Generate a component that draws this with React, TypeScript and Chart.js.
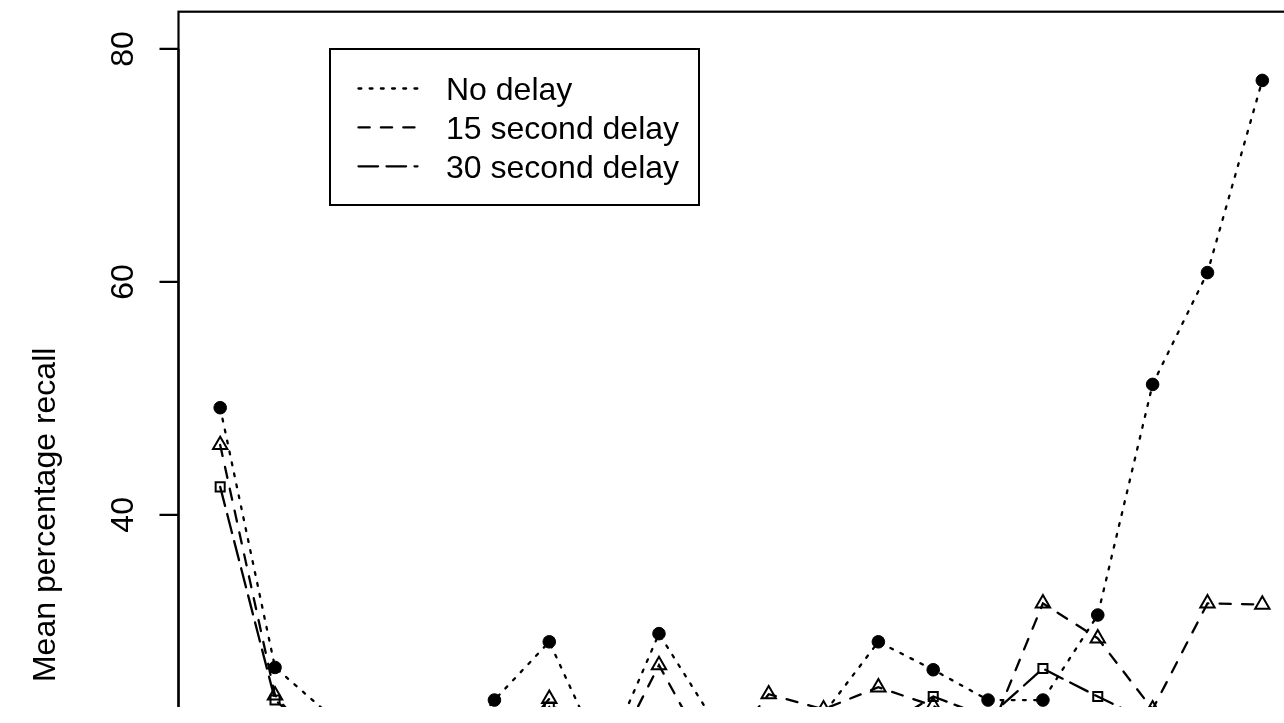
import React, { useEffect, useRef } from "react";
import { Chart, registerables } from "chart.js";

Chart.register(...registerables);

// ---- data ----
const trials = [1, 2, 3, 4, 5, 6, 7, 8, 9, 10, 11, 12, 13, 14, 15, 16, 17, 18, 19, 20];
const noDelay = [49.2, 26.9, 22.8, 20.5, 18.5, 24.1, 29.1, 18.9, 29.8, 22.3, 19.5, 22.9, 29.1, 26.7, 24.1, 24.1, 31.4, 51.2, 60.8, 77.3];
const delay15 = [46.0, 24.5, 19.0, 17.5, 18.0, 18.6, 24.2, 17.8, 27.1, 18.5, 24.6, 23.3, 25.2, 23.6, 20.9, 32.4, 29.4, 23.3, 32.4, 32.3];
const delay30 = [42.4, 24.1, 20.0, 18.0, 17.0, 19.0, 23.5, 16.5, 20.0, 17.0, 18.5, 20.5, 21.5, 24.4, 22.6, 26.8, 24.4, 22.1, 19.0, 17.5];
const yTicks = [0, 20, 40, 60, 80];
const legendLabels = ["No delay", "15 second delay", "30 second delay"];
const yTitle = "Mean percentage recall";

const FONT = '32px "Liberation Sans", Arial, sans-serif';
const LW = 2.3;
const U = 2.8;
const DOTTED = [1 * U, 3 * U];
const DASHED = [4 * U, 4 * U];
const LONGDASH = [7 * U, 3 * U];
const dashes = [DOTTED, DASHED, LONGDASH];

const CW = 1330;
const CH = 1060;

const framePlugin = {
  id: "rframe",
  afterDraw(chart: any) {
    const ctx = chart.ctx as CanvasRenderingContext2D;
    const a = chart.chartArea;
    const ys = chart.scales.y;
    ctx.save();
    ctx.strokeStyle = "#000";
    ctx.fillStyle = "#000";
    ctx.setLineDash([]);
    // plot box
    ctx.lineWidth = 2.2;
    ctx.strokeRect(a.left, a.top, a.right - a.left, a.bottom - a.top);
    // y axis line + ticks
    ctx.beginPath();
    ctx.moveTo(a.left, ys.getPixelForValue(yTicks[0]));
    ctx.lineTo(a.left, ys.getPixelForValue(yTicks[yTicks.length - 1]));
    for (const v of yTicks) {
      const y = ys.getPixelForValue(v);
      ctx.moveTo(a.left - 19, y);
      ctx.lineTo(a.left, y);
    }
    ctx.stroke();
    // tick labels, rotated
    ctx.font = FONT;
    ctx.textAlign = "center";
    ctx.textBaseline = "alphabetic";
    for (const v of yTicks) {
      const y = ys.getPixelForValue(v);
      ctx.save();
      ctx.translate(a.left - 45.5, y);
      ctx.rotate(-Math.PI / 2);
      ctx.fillText(String(v), 0, 0);
      ctx.restore();
    }
    // y title
    ctx.save();
    ctx.translate(54.5, (a.top + a.bottom) / 2);
    ctx.rotate(-Math.PI / 2);
    ctx.fillText(yTitle, 0, 0);
    ctx.restore();
    // legend
    ctx.lineWidth = 2;
    ctx.strokeRect(330, 49, 369, 156);
    const rows = [88.5, 127.4, 166.3];
    legendLabels.forEach((lab, i) => {
      const yl = rows[i];
      ctx.save();
      ctx.lineWidth = LW;
      ctx.lineCap = "round";
      ctx.setLineDash(dashes[i]);
      ctx.beginPath();
      ctx.moveTo(358.5, yl);
      ctx.lineTo(417.5, yl);
      ctx.stroke();
      ctx.restore();
      ctx.textAlign = "left";
      ctx.fillText(lab, 446, yl + 11.7);
    });
    ctx.restore();
  },
};

export default function App() {
  const ref = useRef<HTMLCanvasElement | null>(null);
  useEffect(() => {
    if (!ref.current) return;
    const mk = (vals: number[]) => vals.map((v, i) => ({ x: trials[i], y: v }));
    const chart = new Chart(ref.current, {
      type: "line",
      data: {
        datasets: [
          {
            label: legendLabels[0],
            data: mk(noDelay),
            borderColor: "#000",
            borderWidth: LW,
            borderDash: DOTTED,
            borderCapStyle: "round",
            pointStyle: "circle",
            pointRadius: 6.3,
            pointBackgroundColor: "#000",
            pointBorderColor: "#000",
            pointBorderWidth: 1,
            tension: 0,
            fill: false,
          },
          {
            label: legendLabels[1],
            data: mk(delay15),
            borderColor: "#000",
            borderWidth: LW,
            borderDash: DASHED,
            borderCapStyle: "round",
            pointStyle: "triangle",
            pointRadius: 8.3,
            pointBackgroundColor: "rgba(0,0,0,0)",
            pointBorderColor: "#000",
            pointBorderWidth: 2,
            tension: 0,
            fill: false,
          },
          {
            label: legendLabels[2],
            data: mk(delay30),
            borderColor: "#000",
            borderWidth: LW,
            borderDash: LONGDASH,
            borderCapStyle: "round",
            pointStyle: "rect",
            pointRadius: 6.4,
            pointBackgroundColor: "rgba(0,0,0,0)",
            pointBorderColor: "#000",
            pointBorderWidth: 2,
            tension: 0,
            fill: false,
          },
        ],
      },
      options: {
        animation: false,
        responsive: false,
        devicePixelRatio: 1,
        events: [],
        layout: { padding: { left: 178.5, top: 11.7, right: CW - 1304, bottom: CH - 1018 } },
        plugins: { legend: { display: false }, tooltip: { enabled: false }, title: { display: false } },
        scales: {
          x: { type: "linear", min: 0.24, max: 20.76, display: false },
          y: { type: "linear", min: -3.2, max: 83.2, display: false },
        },
      },
      plugins: [framePlugin],
    } as any);
    return () => chart.destroy();
  }, []);
  return (
    <div
      style={{
        position: "fixed",
        left: 0,
        top: 0,
        width: 1284,
        height: 707,
        overflow: "hidden",
        background: "#fff",
      }}
    >
      <canvas ref={ref} width={CW} height={CH} style={{ display: "block", width: CW, height: CH }} />
    </div>
  );
}
